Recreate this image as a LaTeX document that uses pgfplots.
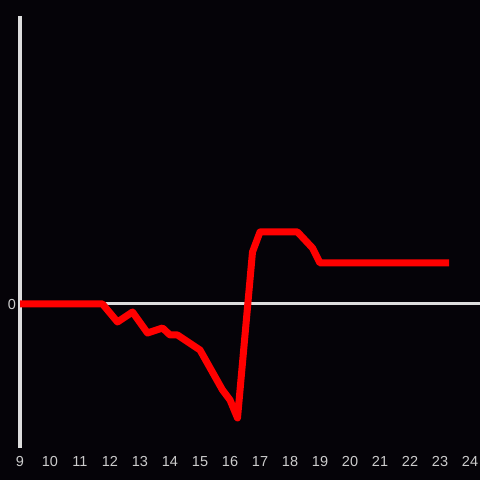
\documentclass[border=0pt]{standalone}
\usepackage{fontspec}
\setmainfont{Liberation Sans}
\usepackage{pgfplots}
\pgfplotsset{compat=1.18}
\definecolor{bg}{RGB}{5,3,8}
\definecolor{axgray}{RGB}{221,221,221}
\definecolor{tickgray}{RGB}{204,204,204}
\begin{document}
\begin{tikzpicture}
\useasboundingbox (0,0) rectangle (480bp,480bp);
\fill[bg] (0,0) rectangle (480bp,480bp);
\begin{axis}[
  at={(20bp,32bp)},
  scale only axis,
  width=460bp, height=432bp,
  xmin=9, xmax=24.3333, ymin=-144, ymax=288,
  axis line style={draw=none},
  xtick={9,10,...,24},
  ytick={0},
  major tick length=0pt,
  tick label style={font=\fontsize{14.5bp}{16bp}\selectfont, text=tickgray, inner sep=0pt},
  xticklabel style={anchor=base, yshift=-18.5bp},
  yticklabel style={anchor=base, xshift=-8bp, yshift=-5.2bp},
  /pgf/number format/assume math mode=true,
  clip=false,
  anchor=south west,
]
\draw[axgray, line width=3bp] (axis cs:9,-144) -- (axis cs:9,288);
\draw[axgray, line width=3bp] (axis cs:9,0) -- (axis cs:24.3333,0);
\addplot[red, line width=7bp, line join=round, line cap=butt] coordinates {
(9,0) (11.75,0) (12.25,-18) (12.75,-8) (13.25,-29) (13.75,-24) (14.0,-31) (14.25,-31)
(15.0,-46) (15.75,-86) (16.0,-96) (16.25,-114) (16.75,52) (17.0,72) (18.25,72)
(18.75,56) (19.0,41) (23.3,41)
};
\end{axis}
\end{tikzpicture}
\end{document}
